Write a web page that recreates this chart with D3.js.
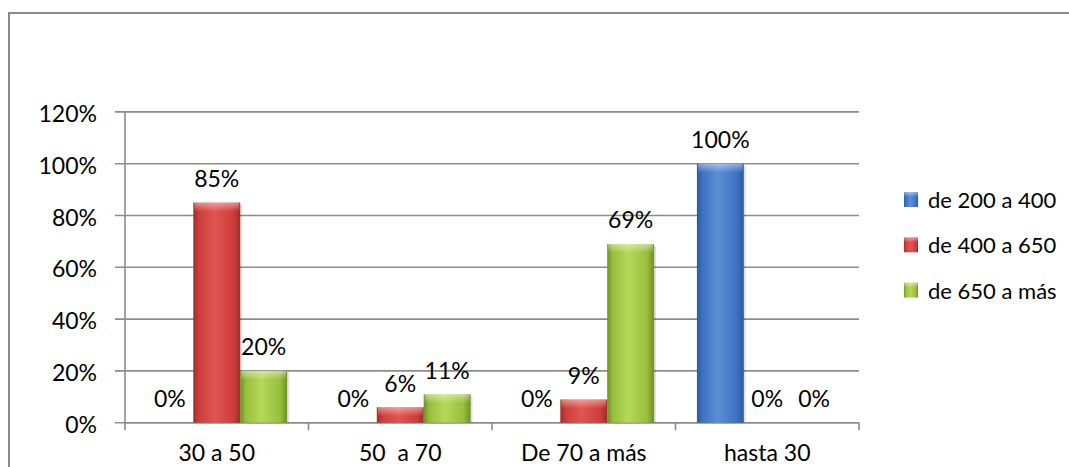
<!DOCTYPE html>
<html><head><meta charset="utf-8">
<script src="https://cdn.jsdelivr.net/npm/d3@7/dist/d3.min.js"></script>
<style>html,body{margin:0;padding:0;background:#fff;overflow:hidden} text{white-space:pre}</style>
</head><body>
<svg id="c" width="1069" height="467"></svg>
<script>
const categories = ["30 a 50", "50  a 70", "De 70 a más", "hasta 30"];
const seriesNames = ["de 200 a 400", "de 400 a 650", "de 650 a más"];
const s200a400 = [0, 0, 0, 1.00];
const s400a650 = [0.85, 0.06, 0.09, 0];
const s650aMas = [0.20, 0.11, 0.69, 0];
const yTicks = [0, 0.2, 0.4, 0.6, 0.8, 1.0, 1.2];

const seriesValues = [s200a400, s400a650, s650aMas];
const colors = [
  {dark:"#2c5a9c", mid:"#3d72c0", light:"#5b8fd8"},
  {dark:"#a02c2a", mid:"#cc3e3b", light:"#e05552"},
  {dark:"#6f8f25", mid:"#98bf3c", light:"#b5d85a"}
];
const FONT = "Lato, 'Open Sans', sans-serif";
const FS = 23;

const svg = d3.select("#c");
const defs = svg.append("defs");
colors.forEach((c, i) => {
  const g = defs.append("linearGradient").attr("id", "g" + i).attr("x1", 0).attr("x2", 1).attr("y1", 0).attr("y2", 0);
  g.append("stop").attr("offset", "0%").attr("stop-color", c.dark);
  g.append("stop").attr("offset", "12%").attr("stop-color", c.mid);
  g.append("stop").attr("offset", "45%").attr("stop-color", c.light);
  g.append("stop").attr("offset", "85%").attr("stop-color", c.mid);
  g.append("stop").attr("offset", "100%").attr("stop-color", c.dark);
  const t = defs.append("linearGradient").attr("id", "t" + i).attr("x1", 0).attr("x2", 0).attr("y1", 0).attr("y2", 1);
  t.append("stop").attr("offset", "0%").attr("stop-color", "#fff").attr("stop-opacity", 0.45);
  t.append("stop").attr("offset", "100%").attr("stop-color", "#fff").attr("stop-opacity", 0);
});

// outer border
svg.append("rect").attr("x", 9).attr("y", 13).attr("width", 1100).attr("height", 500)
  .attr("fill", "none").attr("stroke", "#8a8a8a").attr("stroke-width", 2);

const left = 125, right = 859, y0 = 422.7, yTop = 111.9;
const x = d3.scaleBand().domain(categories).range([left, right]).paddingInner(0).paddingOuter(0);
const y = d3.scaleLinear().domain([0, 1.2]).range([y0, yTop]);
const xs = d3.scaleBand().domain(d3.range(seriesNames.length)).range([0, x.bandwidth()]).paddingInner(0).paddingOuter(0.4565);

// gridlines
svg.append("g").selectAll("line").data(yTicks).join("line")
  .attr("x1", left - 10).attr("x2", right)
  .attr("y1", d => y(d)).attr("y2", d => y(d))
  .attr("stroke", "#8c8c8c").attr("stroke-width", 1.6);

// y axis labels via d3 axis
const yAxis = d3.axisLeft(y).tickValues(yTicks).tickFormat(d3.format(".0%")).tickSize(0).tickPadding(28);
const ya = svg.append("g").attr("transform", `translate(${left},0)`).call(yAxis);
ya.select(".domain").remove();
ya.selectAll("text").attr("font-family", FONT).attr("font-size", FS).attr("fill", "#000").attr("dy", "0.42em");

// y axis line
svg.append("line").attr("x1", left).attr("x2", left).attr("y1", yTop).attr("y2", y0 + 7.5)
  .attr("stroke", "#8c8c8c").attr("stroke-width", 1.6);

// x axis
const xa = svg.append("g").attr("transform", `translate(0,${y0})`)
  .call(d3.axisBottom(x).tickSize(0).tickPadding(22));
xa.select(".domain").remove();
xa.selectAll("text").attr("font-family", FONT).attr("font-size", FS).attr("fill", "#000").attr("dy", "0.71em");
svg.append("g").selectAll("line").data(categories).join("line")
  .attr("x1", d => x(d) + x.bandwidth()).attr("x2", d => x(d) + x.bandwidth())
  .attr("y1", y0).attr("y2", y0 + 7.5).attr("stroke", "#8c8c8c").attr("stroke-width", 1.6);
svg.append("line").attr("x1", left).attr("x2", right).attr("y1", y0).attr("y2", y0)
  .attr("stroke", "#8c8c8c").attr("stroke-width", 1.6);

// bars
const bars = [];
seriesValues.forEach((vals, si) => vals.forEach((v, ci) => bars.push({si, ci, v})));
const bg = svg.append("g");
bars.filter(d => d.v > 0).forEach(d => {
  const bx = x(categories[d.ci]) + xs(d.si), bw = xs.bandwidth();
  const by = y(d.v), bh = y0 - by;
  bg.append("rect").attr("x", bx + 2).attr("y", by + 2).attr("width", bw).attr("height", bh - 2)
    .attr("fill", "#000").attr("opacity", 0.12);
  bg.append("rect").attr("x", bx).attr("y", by).attr("width", bw).attr("height", bh)
    .attr("fill", `url(#g${d.si})`);
  bg.append("rect").attr("x", bx + 1).attr("y", by).attr("width", bw - 2).attr("height", Math.min(9, bh))
    .attr("fill", `url(#t${d.si})`);
});

// labels
svg.append("g").selectAll("text").data(bars).join("text")
  .attr("x", d => x(categories[d.ci]) + xs(d.si) + xs.bandwidth() / 2)
  .attr("y", d => y(d.v) - 15.5)
  .attr("text-anchor", "middle")
  .attr("font-family", FONT).attr("font-size", FS).attr("fill", "#000")
  .text(d => d3.format(".0%")(d.v));

// legend
const lg = svg.append("g");
seriesNames.forEach((n, i) => {
  const ly = 200 + i * 45.3;
  lg.append("rect").attr("x", 904).attr("y", ly - 8).attr("width", 14).attr("height", 15)
    .attr("fill", `url(#g${i})`);
  lg.append("rect").attr("x", 904).attr("y", ly - 8).attr("width", 14).attr("height", 5)
    .attr("fill", `url(#t${i})`);
  lg.append("text").attr("x", 928).attr("y", ly).attr("dy", "0.36em")
    .attr("font-family", FONT).attr("font-size", 22).attr("fill", "#000").text(n);
});
</script>
</body></html>
